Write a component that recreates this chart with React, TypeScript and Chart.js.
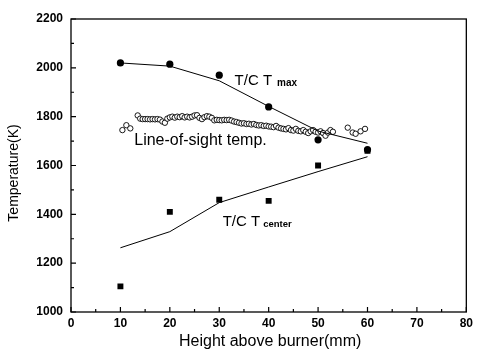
import { useEffect, useRef } from "react";
import { Chart, registerables } from "chart.js";

Chart.register(...registerables);

// Thermocouple measurements (mm above burner, K)
const heights = [10, 20, 30, 40, 50, 60];
const tmaxMeasured = [2020, 2015, 1970, 1840, 1705, 1665];
const tmaxFit = [2020, 2007, 1947, 1842, 1741, 1691];
const tcenterMeasured = [1105, 1410, 1460, 1455, 1600, 1660];
const tcenterFit = [1263, 1329, 1448, 1512, 1575, 1636];

// Line-of-sight (optical) temperature profile
const losHeights = [
  10.4, 11.2, 12.0, 13.5, 14.0, 14.5, 15.0, 15.5, 16.0, 16.5, 17.0, 17.5, 18.0,
  18.5, 19.0, 19.5, 20.0, 20.5, 21.0, 21.5, 22.0, 22.5, 23.0, 23.5, 24.0, 24.5,
  25.0, 25.5, 26.0, 26.5, 27.0, 27.5, 28.0, 28.5, 29.0, 29.5, 30.0, 30.5, 31.0,
  31.5, 32.0, 32.5, 33.0, 33.5, 34.0, 34.5, 35.0, 35.5, 36.0, 36.5, 37.0, 37.5,
  38.0, 38.5, 39.0, 39.5, 40.0, 40.5, 41.0, 41.5, 42.0, 42.5, 43.0, 43.5, 44.0,
  44.5, 45.0, 45.5, 46.0, 46.5, 47.0, 47.5, 48.0, 48.5, 49.0, 49.5, 50.0, 50.5,
  51.0, 51.5, 52.0, 52.5, 53.0, 56.0, 57.0, 57.6, 58.6, 59.5,
];
const losTemps = [
  1745, 1765, 1752, 1805, 1792, 1790, 1790, 1790, 1789, 1790, 1789, 1790, 1788,
  1780, 1775, 1792, 1797, 1800, 1796, 1800, 1798, 1802, 1797, 1800, 1797, 1800,
  1805, 1806, 1795, 1790, 1798, 1802, 1800, 1795, 1785, 1787, 1786, 1785, 1787,
  1786, 1787, 1784, 1780, 1778, 1775, 1772, 1773, 1770, 1771, 1768, 1770, 1766,
  1764, 1765, 1762, 1763, 1760, 1759, 1757, 1762, 1755, 1752, 1750, 1748, 1753,
  1745, 1743, 1750, 1742, 1740, 1745, 1738, 1733, 1740, 1745, 1738, 1735, 1740,
  1733, 1722, 1735, 1745, 1738, 1755, 1735, 1730, 1740, 1750,
];

const xTickValues = [0, 10, 20, 30, 40, 50, 60, 70, 80];
const yTickValues = [1000, 1200, 1400, 1600, 1800, 2000, 2200];

const xTitle = "Height above burner(mm)";
const yTitle = "Temperature(K)";

type SeriesLabel = {
  x: number;
  y: number;
  main: string;
  sub: string;
  mainFont: string;
  subFont: string;
  gap: number;
  drop: number;
};

const seriesLabels: SeriesLabel[] = [
  { x: 33.1, y: 1931, main: "T/C T", sub: "max", mainFont: "15px 'Liberation Sans', Arial, sans-serif", subFont: "bold 10px 'Liberation Sans', Arial, sans-serif", gap: 5, drop: 1 },
  { x: 30.7, y: 1352, main: "T/C T", sub: "center", mainFont: "15px 'Liberation Sans', Arial, sans-serif", subFont: "bold 9.5px 'Liberation Sans', Arial, sans-serif", gap: 3, drop: 1 },
  { x: 12.8, y: 1684, main: "Line-of-sight temp.", sub: "", mainFont: "16px 'Liberation Sans', Arial, sans-serif", subFont: "", gap: 0, drop: 0 },
];

const toPoints = (xs: number[], ys: number[]) => xs.map((x, i) => ({ x, y: ys[i] }));

const framePlugin = {
  id: "frameAndTicks",
  beforeDraw(chart: any) {
    const { ctx, width, height } = chart;
    ctx.save();
    ctx.fillStyle = "#ffffff";
    ctx.fillRect(0, 0, width, height);
    ctx.restore();
  },
  afterDatasetsDraw(chart: any) {
    const { ctx, chartArea } = chart;
    const xs = chart.scales.x;
    const ys = chart.scales.y;
    const { left, right, top, bottom } = chartArea;
    ctx.save();
    ctx.strokeStyle = "#000";
    ctx.lineWidth = 1.3;
    ctx.strokeRect(left, top, right - left, bottom - top);

    ctx.lineWidth = 1.2;
    ctx.beginPath();
    // inward ticks on the bottom axis (major + minor halfway)
    for (let i = 0; i < xTickValues.length; i++) {
      const px = xs.getPixelForValue(xTickValues[i]);
      ctx.moveTo(px, bottom);
      ctx.lineTo(px, bottom - 5);
      if (i < xTickValues.length - 1) {
        const mid = xs.getPixelForValue((xTickValues[i] + xTickValues[i + 1]) / 2);
        ctx.moveTo(mid, bottom);
        ctx.lineTo(mid, bottom - 3);
      }
    }
    // inward ticks on the left axis
    for (let i = 0; i < yTickValues.length; i++) {
      const py = ys.getPixelForValue(yTickValues[i]);
      ctx.moveTo(left, py);
      ctx.lineTo(left + 5, py);
      if (i < yTickValues.length - 1) {
        const mid = ys.getPixelForValue((yTickValues[i] + yTickValues[i + 1]) / 2);
        ctx.moveTo(left, mid);
        ctx.lineTo(left + 3, mid);
      }
    }
    ctx.stroke();

    // series annotations
    ctx.fillStyle = "#000";
    ctx.textBaseline = "alphabetic";
    ctx.textAlign = "left";
    for (const lab of seriesLabels) {
      const px = xs.getPixelForValue(lab.x);
      const py = ys.getPixelForValue(lab.y);
      ctx.font = lab.mainFont;
      ctx.fillText(lab.main, px, py);
      if (lab.sub) {
        const w = ctx.measureText(lab.main).width;
        ctx.font = lab.subFont;
        ctx.fillText(lab.sub, px + w + lab.gap, py + lab.drop);
      }
    }

    // axis titles
    ctx.font = "16px 'Liberation Sans', Arial, sans-serif";
    ctx.textAlign = "center";
    ctx.textBaseline = "middle";
    ctx.fillText(xTitle, (left + right) / 2 + 1.5, 342);
    ctx.save();
    ctx.translate(14.5, (top + bottom) / 2 + 7.5);
    ctx.rotate(-Math.PI / 2);
    ctx.font = "14px 'Liberation Sans', Arial, sans-serif";
    ctx.fillText(yTitle, 0, 0);
    ctx.restore();
    ctx.restore();
  },
};

export default function App() {
  const canvasRef = useRef<HTMLCanvasElement | null>(null);

  useEffect(() => {
    if (!canvasRef.current) return;
    const tickFont = { family: "'Liberation Sans', Arial, sans-serif", size: 12, weight: "bold" as const };
    const chart = new Chart(canvasRef.current, {
      type: "scatter",
      data: {
        datasets: [
          {
            label: "T/C Tmax",
            data: toPoints(heights, tmaxMeasured),
            pointStyle: "circle",
            pointRadius: 3.6,
            pointBackgroundColor: "#000",
            pointBorderColor: "#000",
            pointBorderWidth: 0,
            showLine: false,
          },
          {
            label: "T/C Tmax fit",
            data: toPoints(heights, tmaxFit),
            showLine: true,
            pointRadius: 0,
            borderColor: "#000",
            borderWidth: 1,
            tension: 0,
          },
          {
            label: "T/C Tcenter",
            data: toPoints(heights, tcenterMeasured),
            pointStyle: "rect",
            pointRadius: 4.2,
            pointBackgroundColor: "#000",
            pointBorderColor: "#000",
            pointBorderWidth: 0,
            showLine: false,
          },
          {
            label: "T/C Tcenter fit",
            data: toPoints(heights, tcenterFit),
            showLine: true,
            pointRadius: 0,
            borderColor: "#000",
            borderWidth: 1,
            tension: 0,
          },
          {
            label: "Line-of-sight temp.",
            data: toPoints(losHeights, losTemps),
            pointStyle: "circle",
            pointRadius: 2.7,
            pointBackgroundColor: "#fff",
            pointBorderColor: "#000",
            pointBorderWidth: 0.9,
            showLine: false,
          },
        ],
      },
      options: {
        animation: false,
        responsive: false,
        events: [],
        layout: { padding: { top: 19, right: 7, left: 0, bottom: 0 } },
        plugins: { legend: { display: false }, tooltip: { enabled: false } },
        scales: {
          x: {
            type: "linear",
            min: 0,
            max: 80,
            grid: { display: false, drawTicks: false },
            border: { display: false },
            afterBuildTicks: (scale: any) => {
              scale.ticks = xTickValues.map((v) => ({ value: v }));
            },
            afterFit: (scale: any) => {
              scale.height = 39;
            },
            ticks: { color: "#000", font: tickFont, padding: 4, maxRotation: 0, autoSkip: false, callback: (v: any) => String(v) },
          },
          y: {
            type: "linear",
            min: 1000,
            max: 2200,
            grid: { display: false, drawTicks: false },
            border: { display: false },
            afterBuildTicks: (scale: any) => {
              scale.ticks = yTickValues.map((v) => ({ value: v }));
            },
            afterFit: (scale: any) => {
              scale.width = 71;
            },
            ticks: { color: "#000", font: tickFont, padding: 8, autoSkip: false, callback: (v: any) => String(v) },
          },
        },
      },
      plugins: [framePlugin],
    });
    return () => chart.destroy();
  }, []);

  return (
    <div style={{ position: "fixed", left: 0, top: 0, width: 477, height: 351, background: "#fff" }}>
      <canvas ref={canvasRef} width={477} height={351} style={{ display: "block" }} />
    </div>
  );
}
